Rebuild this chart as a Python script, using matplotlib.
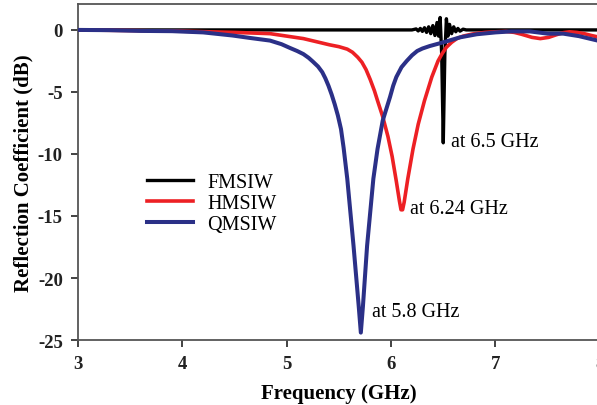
import matplotlib.pyplot as plt

# FMSIW (black)
fm_freq = [3.0, 4.0, 5.0, 5.8, 6.2,
           6.24, 6.26, 6.28, 6.30, 6.32, 6.34, 6.36, 6.38, 6.40, 6.42, 6.44, 6.455,
           6.47, 6.485, 6.50, 6.515, 6.53, 6.545, 6.56, 6.58, 6.60, 6.62, 6.64,
           6.66, 6.69, 6.72, 8.0]
fm_s11 = [0.0, 0.0, 0.0, 0.0, 0.0,
          0.08, -0.08, 0.12, -0.12, 0.18, -0.2, 0.25, -0.3, 0.35, -0.45, 0.6, -0.5,
          1.0, -2.0, -9.1, -2.0, 0.9, -0.5, 0.45, -0.3, 0.25, -0.15, 0.12,
          -0.1, 0.06, 0.0, 0.0]

# HMSIW (red)
hm_freq = [3.0, 3.5, 4.0, 4.5, 4.84, 5.16, 5.41, 5.50, 5.58, 5.63, 5.68, 5.72,
           5.76, 5.80, 5.84, 5.87, 5.92, 5.97, 6.01, 6.05, 6.08, 6.095, 6.11,
           6.125, 6.16, 6.21, 6.26, 6.32, 6.39, 6.45, 6.49, 6.53, 6.58, 6.63,
           6.69, 6.78, 6.9, 7.0, 7.1, 7.18, 7.25, 7.35, 7.43, 7.51, 7.58, 7.65,
           7.71, 7.78, 7.85, 7.92, 8.0]
hm_s11 = [0.0, -0.05, -0.1, -0.2, -0.3, -0.7, -1.2, -1.35, -1.55, -1.8, -2.2, -2.6,
          -3.2, -4.0, -4.9, -5.7, -7.0, -8.6, -10.2, -12.2, -13.8, -14.5, -14.5,
          -13.9, -12.0, -9.6, -7.6, -5.7, -3.8, -2.5, -1.9, -1.4, -1.0, -0.7,
          -0.5, -0.33, -0.2, -0.15, -0.12, -0.2, -0.35, -0.6, -0.7, -0.6, -0.4, -0.22,
          -0.15, -0.2, -0.3, -0.45, -0.6]

# QMSIW (blue)
qm_freq = [3.0, 3.3, 3.6, 3.9, 4.2, 4.48, 4.65, 4.84, 4.95, 5.03, 5.10, 5.16,
           5.21, 5.25, 5.30, 5.34, 5.37, 5.40, 5.43, 5.46, 5.49, 5.52, 5.545,
           5.58, 5.64, 5.69, 5.71, 5.73, 5.77, 5.83, 5.87, 5.92, 5.99, 6.02,
           6.05, 6.10, 6.15, 6.20, 6.25, 6.30, 6.37, 6.50, 6.66, 6.82, 7.0,
           7.15, 7.33, 7.5, 7.65, 7.8, 8.0]
qm_s11 = [0.0, -0.02, -0.08, -0.1, -0.2, -0.45, -0.65, -0.86, -1.15, -1.45, -1.7, -1.95,
          -2.25, -2.55, -2.95, -3.4, -3.9, -4.5, -5.2, -6.0, -6.9, -8.0, -9.5,
          -12.0, -17.4, -22.3, -24.4, -22.3, -17.4, -12.0, -9.6, -7.3, -5.4, -4.5,
          -3.8, -3.0, -2.5, -2.05, -1.7, -1.5, -1.3, -1.0, -0.6, -0.35, -0.2,
          -0.12, -0.12, -0.3, -0.3, -0.5, -0.9]

x_ticks = [3, 4, 5, 6, 7, 8]
y_ticks = [0, -5, -10, -15, -20, -25]

plt.rcParams['font.family'] = ['Liberation Serif', 'DejaVu Serif']

fig = plt.figure(figsize=(5.97, 4.06), dpi=100)
ax = fig.add_axes([0.1307, 0.160, 0.874, 0.828])

ax.plot(fm_freq, fm_s11, color='black', lw=2.4, label='FMSIW', zorder=3)
ax.plot(hm_freq, hm_s11, color='#ed2024', lw=2.6, label='HMSIW', zorder=4,
        solid_joinstyle='round')
ax.plot(qm_freq, qm_s11, color='#2b3087', lw=2.9, label='QMSIW', zorder=5,
        solid_joinstyle='round')

ax.set_xlim(3, 8)
ax.set_ylim(-25, 2.1)
ax.set_xticks(x_ticks)
ax.set_yticks(y_ticks)
ax.set_xticklabels([str(t) for t in x_ticks], fontsize=13.5, fontweight='bold')
ax.set_yticklabels([str(t) for t in y_ticks], fontsize=13.5, fontweight='bold')
ax.tick_params(direction='out', length=5, width=1.2, colors='#222222', pad=6)

for side in ['left', 'bottom', 'top']:
    ax.spines[side].set_color('#555555')
    ax.spines[side].set_linewidth(1.3)
ax.spines['right'].set_visible(False)

ax.set_xlabel('Frequency (GHz)', fontsize=15, fontweight='bold', labelpad=8)
ax.set_ylabel('Reflection Coefficient (dB)', fontsize=15, fontweight='bold', labelpad=3)

ax.text(6.57, -9.0, 'at 6.5 GHz', fontsize=14.5, va='center', ha='left')
ax.text(6.18, -14.4, 'at 6.24 GHz', fontsize=14.5, va='center', ha='left')
ax.text(5.82, -22.7, 'at 5.8 GHz', fontsize=14.5, va='center', ha='left')

ax.legend(loc='center left', bbox_to_anchor=(0.246, 0.496), bbox_transform=fig.transFigure,
          frameon=False, fontsize=14.5, handlelength=2.3, handletextpad=0.7,
          labelspacing=0.1, borderpad=0, borderaxespad=0)

fig.savefig('out.png', dpi=100)
